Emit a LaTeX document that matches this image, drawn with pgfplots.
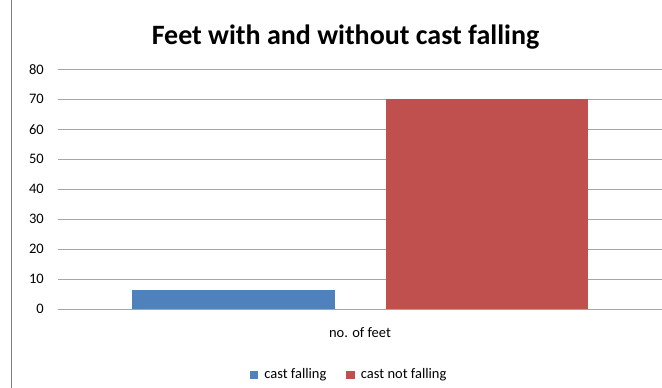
\documentclass[border=0pt]{standalone}
\usepackage{pgfplots}
\pgfplotsset{compat=1.18}
\usepackage{fontspec}
\setmainfont{Carlito}
\definecolor{cblue}{HTML}{4F81BD}
\definecolor{cred}{HTML}{C0504D}
\definecolor{gridc}{HTML}{A6A6A6}
\begin{document}
\begin{tikzpicture}
\begin{axis}[
 at={(58bp,78.7bp)}, anchor=south west,
 scale only axis, width=604bp, height=240bp,
 ybar=51bp, bar width=202bp,
 xmin=-1, xmax=1,
 ymin=0, ymax=80, ytick={0,10,...,80},
 xtick={0}, xticklabels={no. of feet},
 ymajorgrids, grid style={gridc, line width=0.8bp},
 axis x line*=bottom, axis y line*=left,
 y axis line style={draw=none}, x axis line style={gridc, line width=0.8bp},
 major tick length=0,
 tick label style={font=\fontsize{14.5bp}{17bp}\selectfont},
 yticklabel style={inner sep=0pt, xshift=-14bp},
 xticklabel style={yshift=-15bp},
 /pgf/number format/assume math mode=true,
 legend style={at={(rel axis cs:0.482,-0.27)}, anchor=center, draw=none,
   legend columns=2, font=\fontsize{14.5bp}{17bp}\selectfont,
   /tikz/every odd column/.append style={column sep=4bp},
   /tikz/every even column/.append style={column sep=18bp}},
 legend image code/.code={\fill[#1] (0bp,-5bp) rectangle (8.5bp,3.5bp);},
]
\addplot[fill=cblue, draw=none] coordinates {(0,6.4)};
\addplot[fill=cred, draw=none] coordinates {(0,70)};
\legend{cast falling, cast not falling}
\end{axis}
\node[font=\bfseries\fontsize{28bp}{33bp}\selectfont] at (345.5bp,351bp) {Feet with and without cast falling};
\draw[gray, line width=1bp] (11bp,0) -- (11bp,388bp);
\pgfresetboundingbox
\path (0,0) rectangle (662bp,388bp);
\end{tikzpicture}
\end{document}
